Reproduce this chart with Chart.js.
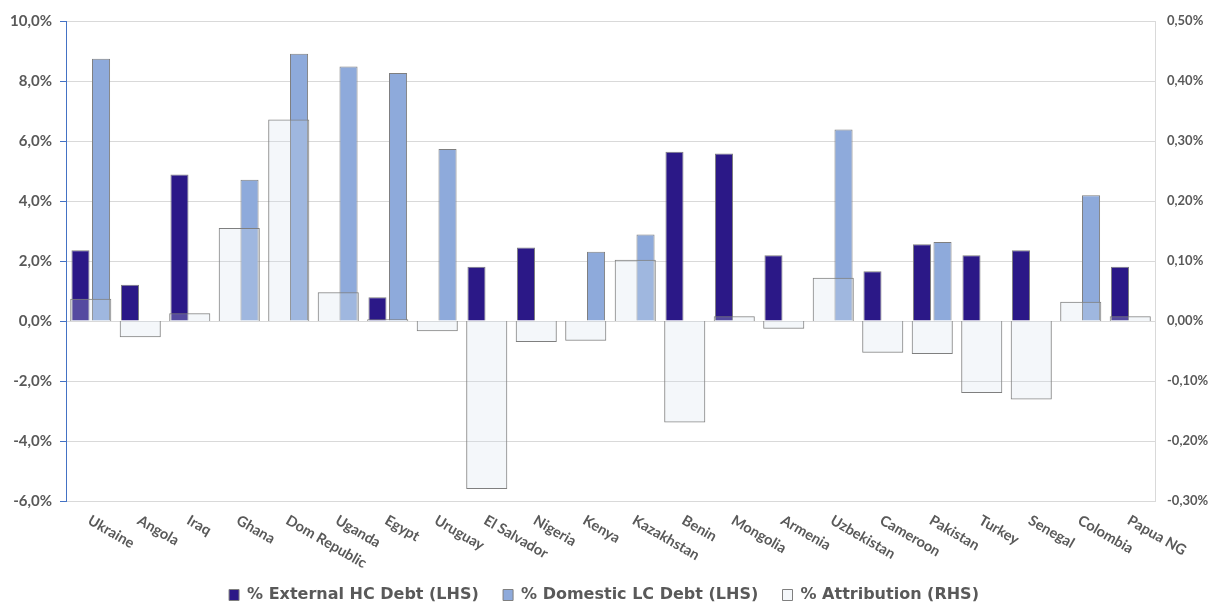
<!DOCTYPE html>
<html>
<head>
<meta charset="utf-8">
<script src="https://cdn.jsdelivr.net/npm/chart.js@4.4.1/dist/chart.umd.min.js"></script>
<style>
  html, body { margin: 0; padding: 0; background: #fff; }
  #wrap { width: 1208px; height: 603px; }
</style>
</head>
<body>
<div id="wrap"><canvas id="chart"></canvas></div>
<script>
// ======== Data ========
const countries = ['Ukraine', 'Angola', 'Iraq', 'Ghana', 'Dom Republic', 'Uganda', 'Egypt', 'Uruguay',
  'El Salvador', 'Nigeria', 'Kenya', 'Kazakhstan', 'Benin', 'Mongolia', 'Armenia', 'Uzbekistan',
  'Cameroon', 'Pakistan', 'Turkey', 'Senegal', 'Colombia', 'Papua NG'];

const externalHC = [2.36, 1.21, 4.88, null, null, null, 0.79, null, 1.81, 2.45, null, null,
  5.64, 5.58, 2.19, null, 1.66, 2.56, 2.19, 2.36, null, 1.81];

const domesticLC = [8.74, null, null, 4.71, 8.91, 8.48, 8.27, 5.73, null, null, 2.31, 2.88,
  null, null, null, 6.38, null, 2.63, null, null, 4.19, null];

const attribution = [0.037, -0.027, 0.013, 0.155, 0.336, 0.048, 0.003, -0.017, -0.28, -0.035, -0.033, 0.102,
  -0.169, 0.008, -0.013, 0.072, -0.053, -0.055, -0.12, -0.131, 0.032, 0.008];

const seriesNames = ['% External HC Debt (LHS)', '% Domestic LC Debt (LHS)', '% Attribution (RHS)'];

// ======== Styles ========
const FONT = 'Lato, "DejaVu Sans", sans-serif';
const LEGEND_FONT = '"DejaVu Sans", sans-serif';
const GREY_TEXT = '#595959';
const BORDER = '#7f7f7f';

// rotated category labels, placed from the x scale
const rotatedLabels = {
  id: 'rotatedLabels',
  afterDraw(chart) {
    const ctx = chart.ctx;
    const xs = chart.scales.x;
    ctx.save();
    ctx.font = 'bold 14.5px ' + FONT;
    ctx.fillStyle = GREY_TEXT;
    ctx.textAlign = 'left';
    ctx.textBaseline = 'top';
    countries.forEach((name, i) => {
      const x = xs.getPixelForValue(i);
      ctx.save();
      ctx.translate(x + 2, chart.chartArea.bottom + 12);
      ctx.rotate(30 * Math.PI / 180);
      ctx.fillText(name, 0, 0);
      ctx.restore();
    });
    ctx.restore();
  }
};

const pct = (v, d) => v.toFixed(d).replace('.', ',') + '%';

new Chart(document.getElementById('chart'), {
  type: 'bar',
  data: {
    labels: countries,
    datasets: [
      {
        label: seriesNames[0] + '    ',
        data: externalHC,
        backgroundColor: '#2b1887',
        borderColor: BORDER,
        borderWidth: 1,
        yAxisID: 'y',
        order: 1,
        categoryPercentage: 0.83,
        barPercentage: 0.88
      },
      {
        label: seriesNames[1] + '    ',
        data: domesticLC,
        backgroundColor: '#8eaadb',
        borderColor: BORDER,
        borderWidth: 1,
        yAxisID: 'y',
        order: 1,
        categoryPercentage: 0.83,
        barPercentage: 0.88
      },
      {
        label: seriesNames[2],
        data: attribution,
        backgroundColor: 'rgba(211,223,235,0.25)',
        borderColor: BORDER,
        borderWidth: 1,
        yAxisID: 'y2',
        order: 0,
        grouped: false,
        categoryPercentage: 0.83,
        barPercentage: 1.0
      }
    ]
  },
  options: {
    responsive: true,
    maintainAspectRatio: false,
    animation: false,
    layout: { padding: { top: 21, left: 0, right: 0, bottom: -10 } },
    plugins: {
      tooltip: { enabled: false },
      legend: {
        position: 'bottom',
        labels: {
          sort: (a, b) => a.datasetIndex - b.datasetIndex,
          boxWidth: 10,
          boxHeight: 11,
          padding: 2,
          color: GREY_TEXT,
          font: { family: LEGEND_FONT, size: 16, weight: 'bold' }
        }
      }
    },
    scales: {
      x: {
        grid: { display: false },
        border: { display: false },
        ticks: { display: false },
        afterFit: s => { s.height = 84; }
      },
      y: {
        position: 'left',
        min: -6,
        max: 10,
        ticks: {
          stepSize: 2,
          padding: 8,
          color: GREY_TEXT,
          font: { family: FONT, size: 15, weight: 'bold' },
          callback: v => pct(v, 1)
        },
        grid: { color: '#d9d9d9', lineWidth: 1, tickLength: 6, tickColor: '#4472c4' },
        border: { display: true, color: '#4472c4', width: 1 },
        afterFit: s => { s.width = 66; }
      },
      y2: {
        position: 'right',
        min: -0.3,
        max: 0.5,
        ticks: {
          stepSize: 0.1,
          padding: 12,
          color: GREY_TEXT,
          font: { family: FONT, size: 13, weight: 'bold' },
          callback: v => pct(v, 2)
        },
        grid: { display: false, drawTicks: false },
        border: { display: true, color: '#d9d9d9', width: 1 },
        afterFit: s => { s.width = 53; }
      }
    }
  },
  plugins: [rotatedLabels]
});
</script>
</body>
</html>
